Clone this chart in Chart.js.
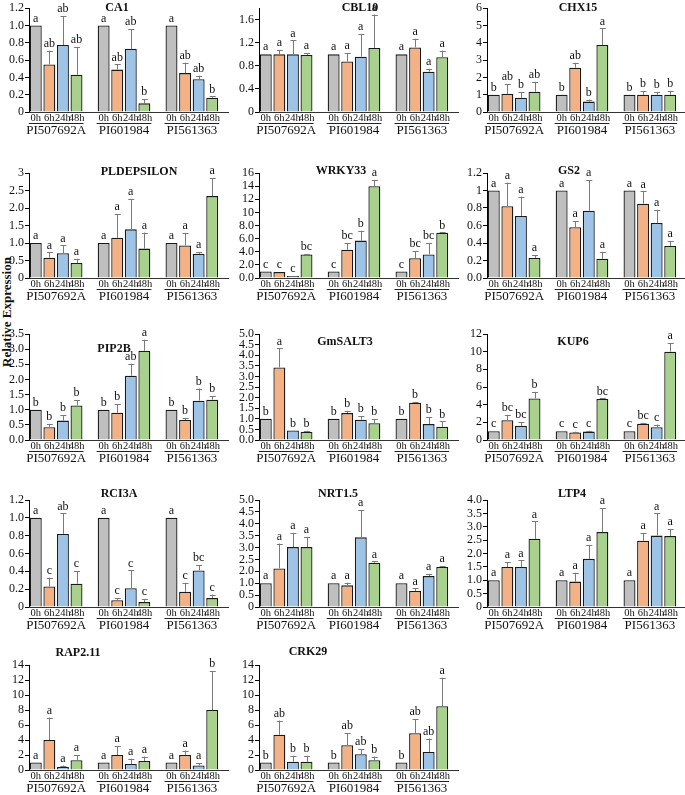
<!DOCTYPE html>
<html>
<head>
<meta charset="utf-8">
<script src="https://cdn.jsdelivr.net/npm/chart.js@4.4.1/dist/chart.umd.min.js"></script>
<style>
  body { margin: 0; background: #fff; width: 685px; height: 795px; overflow: hidden; position: relative; font-family: "Liberation Serif", "Times New Roman", serif; }
  canvas { position: absolute; }
  .ttl { position: absolute; font-weight: bold; font-size: 12px; transform: translate(-50%, -50%); white-space: nowrap; color: #111; }
  .ylab { position: absolute; left: 7px; top: 312px; font-weight: bold; font-size: 13px; white-space: nowrap; transform: translate(-50%, -50%) rotate(-90deg); color: #111; }
</style>
</head>
<body>
<div class="ylab">Relative Expression</div>
<script>
const genotypes = ['PI507692A', 'PI601984', 'PI561363'];
const times = ['0h', '6h', '24h', '48h'];
const timeColors = ['#BFBFBF', '#F4B183', '#9DC3E6', '#A9D18E'];

// values ordered PI507692A 0h..48h, PI601984 0h..48h, PI561363 0h..48h
const ca1Mean = [1.0, 0.55, 0.775, 0.43, 1.0, 0.49, 0.73, 0.10, 1.0, 0.45, 0.38, 0.165];
const ca1Err = [0, 0.16, 0.335, 0.32, 0, 0.06, 0.23, 0.05, 0, 0.12, 0.04, 0.015];
const ca1Sig = ['a', 'ab', 'ab', 'ab', 'a', 'ab', 'ab', 'b', 'a', 'ab', 'ab', 'b'];
const ca1Ticks = ['0', '0.2', '0.4', '0.6', '0.8', '1.0', '1.2'];

const cbl10Mean = [1.0, 1.0, 1.0, 0.99, 1.0, 0.875, 0.96, 1.11, 1.0, 1.12, 0.70, 0.95];
const cbl10Err = [0, 0.076, 0.24, 0.03, 0, 0.145, 0.39, 0.58, 0, 0.15, 0.05, 0.115];
const cbl10Sig = ['a', 'a', 'a', 'a', 'a', 'a', 'a', 'a', 'a', 'a', 'a', 'a'];
const cbl10Ticks = ['0', '0.4', '0.8', '1.2', '1.6'];

const chx15Mean = [1.0, 1.05, 0.82, 1.17, 1.0, 2.56, 0.6, 3.88, 1.0, 1.0, 1.0, 1.0];
const chx15Err = [0, 0.55, 0.32, 0.57, 0, 0.28, 0.12, 0.95, 0, 0.2, 0.15, 0.22];
const chx15Sig = ['b', 'ab', 'b', 'ab', 'b', 'ab', 'b', 'a', 'b', 'b', 'b', 'b'];
const chx15Ticks = ['0', '1', '2', '3', '4', '5', '6'];

const pldMean = [1.0, 0.58, 0.71, 0.43, 1.0, 1.15, 1.39, 0.84, 1.0, 0.93, 0.69, 2.34];
const pldErr = [0, 0.15, 0.22, 0.12, 0, 0.67, 0.86, 0.46, 0, 0.36, 0.05, 0.51];
const pldSig = ['a', 'a', 'a', 'a', 'a', 'a', 'a', 'a', 'a', 'a', 'a', 'a'];
const pldTicks = ['0', '0.5', '1.0', '1.5', '2.0', '2.5', '3'];

const wrkyMean = [1.0, 0.9, 0.3, 3.6, 1.0, 4.3, 5.7, 14.0, 1.0, 3.0, 3.6, 6.9];
const wrkyErr = [0, 0, 0, 0.05, 0, 1.0, 1.5, 0.95, 0, 1.1, 1.7, 0.05];
const wrkySig = ['c', 'c', 'c', 'bc', 'c', 'bc', 'b', 'a', 'c', 'bc', 'bc', 'b'];
const wrkyTicks = ['0.0', '2.0', '4.0', '6.0', '8.0', '10', '12', '14', '16'];

const gs2Mean = [1.0, 0.82, 0.71, 0.23, 1.0, 0.58, 0.77, 0.22, 1.0, 0.85, 0.63, 0.365];
const gs2Err = [0, 0.27, 0.22, 0.03, 0, 0.07, 0.35, 0.08, 0, 0.14, 0.15, 0.055];
const gs2Sig = ['a', 'a', 'a', 'a', 'a', 'a', 'a', 'a', 'a', 'a', 'a', 'a'];
const gs2Ticks = ['0.0', '0.2', '0.4', '0.6', '0.8', '1', '1.2'];

const pipMean = [1.0, 0.42, 0.64, 1.14, 1.0, 0.9, 2.12, 2.95, 1.0, 0.66, 1.3, 1.33];
const pipErr = [0, 0.11, 0.18, 0.17, 0, 0.29, 0.4, 0.36, 0, 0.06, 0.4, 0.12];
const pipSig = ['b', 'b', 'b', 'b', 'b', 'b', 'ab', 'a', 'b', 'b', 'b', 'b'];
const pipTicks = ['0.0', '0.5', '1.0', '1.5', '2.0', '2.5', '3.0', '3.5'];

const saltMean = [1.0, 3.42, 0.45, 0.39, 1.0, 1.27, 0.96, 0.79, 1.0, 1.76, 0.75, 0.62];
const saltErr = [0, 0.9, 0, 0.05, 0, 0.11, 0.16, 0.19, 0, 0.04, 0.32, 0.26];
const saltSig = ['b', 'a', 'b', 'b', 'b', 'b', 'b', 'b', 'b', 'b', 'b', 'b'];
const saltTicks = ['0.0', '0.5', '1.0', '1.5', '2.0', '2.5', '3.0', '3.5', '4.0', '4.5', '5.0'];

const kupMean = [1.0, 2.25, 1.6, 4.7, 1.0, 0.85, 0.95, 4.65, 1.0, 1.85, 1.45, 10.0];
const kupErr = [0, 0.6, 0.4, 0.75, 0, 0.1, 0.1, 0.05, 0, 0.1, 0.3, 0.95];
const kupSig = ['c', 'bc', 'bc', 'b', 'c', 'c', 'c', 'bc', 'c', 'bc', 'c', 'a'];
const kupTicks = ['0', '2', '4', '6', '8', '10', '12'];

const rciMean = [1.0, 0.23, 0.82, 0.26, 1.0, 0.075, 0.21, 0.055, 1.0, 0.17, 0.41, 0.1];
const rciErr = [0, 0.1, 0.23, 0.14, 0, 0.025, 0.2, 0.035, 0, 0.1, 0.06, 0.04];
const rciSig = ['a', 'c', 'ab', 'c', 'a', 'c', 'c', 'c', 'a', 'c', 'bc', 'c'];
const rciTicks = ['0', '0.2', '0.4', '0.6', '0.8', '1.0', '1.2'];

const nrtMean = [1.0, 1.62, 2.52, 2.52, 1.0, 0.91, 2.93, 1.86, 1.0, 0.67, 1.3, 1.68];
const nrtErr = [0, 1.05, 0.58, 0.43, 0, 0.11, 1.15, 0.06, 0, 0.11, 0.09, 0.04];
const nrtSig = ['a', 'a', 'a', 'a', 'a', 'a', 'a', 'a', 'a', 'a', 'a', 'a'];
const nrtTicks = ['0', '0.5', '1.0', '2.0', '2.5', '3.0', '3.5', '4.0', '4.5', '5.0'];

const ltpMean = [1.0, 1.5, 1.5, 2.55, 1.0, 0.95, 1.8, 2.8, 1.0, 2.48, 2.67, 2.65];
const ltpErr = [0, 0.18, 0.24, 0.65, 0, 0.33, 0.52, 0.9, 0, 0.28, 0.83, 0.27];
const ltpSig = ['a', 'a', 'a', 'a', 'a', 'a', 'a', 'a', 'a', 'a', 'a', 'a'];
const ltpTicks = ['0', '0.5', '1.0', '1.5', '2.0', '2.5', '3.0', '3.5', '4.0'];

const rapMean = [1.0, 4.0, 0.4, 1.3, 1.0, 2.0, 0.8, 1.2, 1.0, 2.0, 0.6, 8.0];
const rapErr = [0, 3.0, 0.2, 0.7, 0, 1.2, 0.7, 0.6, 0, 0.6, 0.3, 5.2];
const rapSig = ['a', 'a', 'a', 'a', 'a', 'a', 'a', 'a', 'a', 'a', 'a', 'b'];
const rapTicks = ['0', '2', '4', '6', '8', '10', '12', '14'];

const crkMean = [1.0, 4.7, 1.1, 1.1, 1.0, 3.3, 2.1, 1.3, 1.0, 4.9, 2.4, 8.5];
const crkErr = [0, 1.9, 0.8, 0.8, 0, 1.6, 0.7, 0.5, 0, 1.9, 1.8, 3.8];
const crkSig = ['b', 'ab', 'b', 'b', 'b', 'ab', 'ab', 'b', 'b', 'ab', 'ab', 'a'];
const crkTicks = ['0', '2', '4', '6', '8', '10', '12', '14'];

// layout
const colAxis = [29, 259, 487];
const rowTop = [6, 173, 334, 500, 665];
const rowBase = [112, 278, 440, 607, 770];
const plotW = 190;
const FONT = '"Liberation Serif", "Times New Roman", serif';

const panels = [
  { name: 'CA1', mean: ca1Mean, err: ca1Err, sig: ca1Sig, ticks: ca1Ticks, step: 0.2, max: 1.2, col: 0, row: 0, tx: 117, ty: 7 },
  { name: 'CBL10', mean: cbl10Mean, err: cbl10Err, sig: cbl10Sig, ticks: cbl10Ticks, step: 0.4, max: 1.8, col: 1, row: 0, tx: 360, ty: 7 },
  { name: 'CHX15', mean: chx15Mean, err: chx15Err, sig: chx15Sig, ticks: chx15Ticks, step: 1, max: 6, col: 2, row: 0, tx: 578, ty: 7 },
  { name: 'PLDEPSILON', mean: pldMean, err: pldErr, sig: pldSig, ticks: pldTicks, step: 0.5, max: 3, col: 0, row: 1, tx: 139, ty: 171 },
  { name: 'WRKY33', mean: wrkyMean, err: wrkyErr, sig: wrkySig, ticks: wrkyTicks, step: 2, max: 16, col: 1, row: 1, tx: 341, ty: 170 },
  { name: 'GS2', mean: gs2Mean, err: gs2Err, sig: gs2Sig, ticks: gs2Ticks, step: 0.2, max: 1.2, col: 2, row: 1, tx: 569, ty: 170 },
  { name: 'PIP2B', mean: pipMean, err: pipErr, sig: pipSig, ticks: pipTicks, step: 0.5, max: 3.5, col: 0, row: 2, tx: 114, ty: 348 },
  { name: 'GmSALT3', mean: saltMean, err: saltErr, sig: saltSig, ticks: saltTicks, step: 0.5, max: 5, col: 1, row: 2, tx: 345, ty: 341 },
  { name: 'KUP6', mean: kupMean, err: kupErr, sig: kupSig, ticks: kupTicks, step: 2, max: 12, col: 2, row: 2, tx: 573, ty: 341 },
  { name: 'RCI3A', mean: rciMean, err: rciErr, sig: rciSig, ticks: rciTicks, step: 0.2, max: 1.2, col: 0, row: 3, tx: 119, ty: 493 },
  { name: 'NRT1.5', mean: nrtMean, err: nrtErr, sig: nrtSig, ticks: nrtTicks, step: 0.5, max: 4.5, col: 1, row: 3, tx: 338, ty: 493 },
  { name: 'LTP4', mean: ltpMean, err: ltpErr, sig: ltpSig, ticks: ltpTicks, step: 0.5, max: 4, col: 2, row: 3, tx: 572, ty: 493 },
  { name: 'RAP2.11', mean: rapMean, err: rapErr, sig: rapSig, ticks: rapTicks, step: 2, max: 14, col: 0, row: 4, tx: 78, ty: 652 },
  { name: 'CRK29', mean: crkMean, err: crkErr, sig: crkSig, ticks: crkTicks, step: 2, max: 14, col: 1, row: 4, tx: 308, ty: 651 }
];

// 4 bars per genotype, one empty slot between genotypes
function expand(arr) {
  return [...arr.slice(0, 4), null, ...arr.slice(4, 8), null, ...arr.slice(8, 12)];
}

const marksPlugin = {
  id: 'marks',
  afterDatasetsDraw(chart, args, opts) {
    const ctx = chart.ctx;
    const meta = chart.getDatasetMeta(0);
    const y = chart.scales.y;
    const area = chart.chartArea;
    const base = Math.round(y.getPixelForValue(0)) + 0.5;
    ctx.save();
    ctx.strokeStyle = '#333';
    ctx.lineWidth = 1;
    ctx.beginPath();
    ctx.moveTo(area.left, base);
    ctx.lineTo(area.right + 10, base);
    ctx.stroke();

    const data = chart.data.datasets[0].data;
    data.forEach((v, i) => {
      if (v === null) return;
      const bar = meta.data[i];
      const e = opts.err[i] || 0;
      const top = y.getPixelForValue(v + e);
      if (e > 0) {
        ctx.strokeStyle = '#7a7a7a';
        ctx.lineWidth = 1;
        ctx.beginPath();
        ctx.moveTo(Math.round(bar.x) + 0.5, y.getPixelForValue(v));
        ctx.lineTo(Math.round(bar.x) + 0.5, top);
        ctx.moveTo(bar.x - 2.5, Math.round(top) + 0.5);
        ctx.lineTo(bar.x + 3.5, Math.round(top) + 0.5);
        ctx.stroke();
      }
      ctx.fillStyle = '#111';
      ctx.font = '12px ' + FONT;
      ctx.textAlign = 'center';
      ctx.textBaseline = 'bottom';
      ctx.fillText(opts.sig[i], bar.x, top - 1);
    });

    // genotype names with underline
    genotypes.forEach((g, k) => {
      const first = meta.data[k * 5];
      const last = meta.data[k * 5 + 3];
      const x1 = first.x - first.width / 2 - 1;
      const x2 = last.x + last.width / 2 + 1;
      ctx.strokeStyle = '#222';
      ctx.beginPath();
      ctx.moveTo(x1, base + 11);
      ctx.lineTo(x2, base + 11);
      ctx.stroke();
      ctx.fillStyle = '#111';
      ctx.font = '13px ' + FONT;
      ctx.textAlign = 'center';
      ctx.textBaseline = 'middle';
      ctx.fillText(g, (x1 + x2) / 2, base + 18);
    });
    ctx.restore();
  }
};

const slotLabels = expand(times.concat(times, times)).map(t => t === null ? '' : t);
const slotColors = expand(timeColors.concat(timeColors, timeColors));

panels.forEach(p => {
  const top = rowTop[p.row];
  const base = rowBase[p.row];
  const padTop = Math.min(14, top);
  const left = colAxis[p.col] - 30;
  const canvas = document.createElement('canvas');
  canvas.width = 30 + plotW + 12;
  canvas.height = padTop + (base - top) + 26;
  canvas.style.left = left + 'px';
  canvas.style.top = (top - padTop) + 'px';
  document.body.appendChild(canvas);

  const title = document.createElement('div');
  title.className = 'ttl';
  title.textContent = p.name;
  title.style.left = p.tx + 'px';
  title.style.top = p.ty + 'px';
  document.body.appendChild(title);

  new Chart(canvas, {
    type: 'bar',
    data: {
      labels: slotLabels,
      datasets: [{
        data: expand(p.mean),
        backgroundColor: slotColors,
        borderColor: '#1a1a1a',
        borderWidth: 1.3,
        barPercentage: 0.88,
        categoryPercentage: 1.0
      }]
    },
    options: {
      responsive: false,
      animation: false,
      layout: { padding: { top: padTop, right: 12, left: 0, bottom: 0 } },
      plugins: {
        legend: { display: false },
        tooltip: { enabled: false },
        marks: { err: expand(p.err), sig: expand(p.sig) }
      },
      scales: {
        x: {
          grid: { display: false, drawTicks: false },
          border: { display: false },
          ticks: { autoSkip: false, maxRotation: 0, minRotation: 0, padding: 0, color: '#111', font: { family: FONT, size: 10.5 } },
          afterFit: s => { s.height = 26; }
        },
        y: {
          min: 0,
          max: p.max,
          grid: { display: true, drawOnChartArea: false, drawTicks: true, tickLength: 4, color: '#000' },
          border: { display: true, color: '#000', width: 1 },
          afterBuildTicks: s => { s.ticks = p.ticks.map((t, i) => ({ value: +(i * p.step).toFixed(4) })); },
          ticks: { autoSkip: false, padding: 1, color: '#111', font: { family: FONT, size: 12 }, callback: (v, i) => p.ticks[i] },
          afterFit: s => { s.width = 30; }
        }
      }
    },
    plugins: [marksPlugin]
  });
});
</script>
</body>
</html>
